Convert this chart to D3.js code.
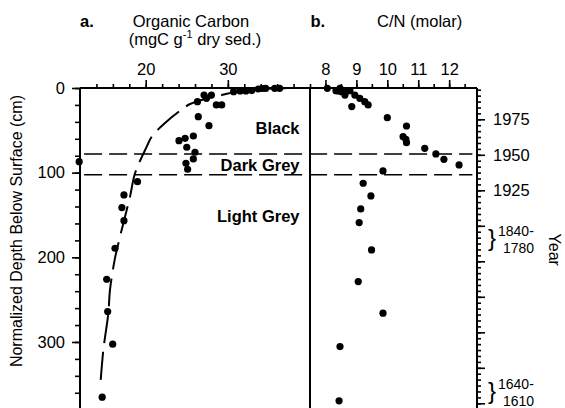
<!DOCTYPE html>
<html>
<head>
<meta charset="utf-8">
<script src="https://cdn.jsdelivr.net/npm/d3@7"></script>
<style>
body { margin: 0; background: #fff; }
text { font-family: "Liberation Sans", Arial, sans-serif; }
</style>
</head>
<body>
<script>
// organic carbon (mgC/g) vs normalized depth (cm)
const ocValue = [30.7, 31.5, 32.2, 32.9, 33.7, 34.2, 34.6, 35.7, 36.3,
    27.1, 28.0, 26.3, 27.4, 28.6, 29.25, 26.4, 27.7, 25.8, 24.8, 24.05,
    25.0, 26.0, 25.8, 24.9, 25.1, 19.0, 17.35, 17.1, 17.35, 16.26, 15.25,
    15.37, 15.98, 14.7, 11.9];
const ocDepth = [4.4, 3.5, 3.5, 3, 1.2, 0.6, 0.5, 0.4, 0.4,
    8.3, 8.3, 16.2, 12.2, 20, 20, 33.9, 44.5, 56.7, 59.4, 62.2,
    70, 75.9, 83.8, 88.9, 96, 110.6, 126.3, 141.3, 156.7, 189.3, 225.9,
    264.1, 302.6, 365.2, 87];

// dashed fit through the carbon profile
const fitValue = [14.52, 14.84, 15.0, 15.45, 15.65, 16.26, 16.87, 17.48, 18.09, 18.7,
    20.12, 20.73, 22.35, 24.3, 25.4, 27.2, 29.25, 31.5, 33.9, 38.8];
const fitDepth = [344.7, 309.3, 297.5, 266, 238.5, 201, 175.6, 152, 128.3, 100.7,
    69.3, 57.5, 41.3, 26, 18.9, 13, 8.3, 3.5, 1.2, 0];

// C/N (molar) vs depth
const cnValue = [8.06, 8.34, 8.42, 8.47, 8.52, 8.63, 8.68, 8.79, 8.85, 8.95,
    9.11, 9.27, 9.38, 10.0, 10.62, 10.51, 10.6, 10.62, 11.21, 11.57,
    11.83, 12.32, 9.86, 9.22, 9.47, 9.14, 9.09, 9.49, 9.06, 9.86, 8.47, 8.44];
const cnDepth = [0.4, 3.2, 3.5, 0.3, 4.4, 8.3, 3.2, 3.2, 22, 8.3,
    12.2, 16.2, 20, 35, 44.9, 57.5, 60.6, 64.6, 71.2, 77.9,
    84.2, 90.9, 98, 112.5, 127.5, 142.9, 159, 191.3, 228.7, 266, 305.4, 369.5];

// sediment colour zones
const zoneBounds = [78, 102.5];
const zoneNames = ["Black", "Dark Grey", "Light Grey"];
const zoneLabelDepth = [54.3, 97.7, 157.7];

// ticks
const ocMajor = [20, 30];
const ocMinor = d3.range(14, 40, 2);
const cnMajor = [8, 9, 10, 11, 12];
const cnMinor = d3.range(7.5, 12.9, 0.5);
const depthMajor = [0, 100, 200, 300];
const depthMinor = d3.range(0, 378, 20);
const yearLabels = [1975, 1950, 1925];
const yearMajor = d3.range(1775, 1976, 25);
const yearMinor = d3.range(1775, 1997, 25 / 6);
const dateRanges = [["1840-", "1780", 177], ["1640-", "1610", 358]];

const svg = d3.select("body").append("svg")
    .attr("width", 565).attr("height", 408);

const xOC = d3.scaleLinear().domain([12, 40]).range([80, 310]);
const xCN = d3.scaleLinear().domain([7.5, 12.9]).range([310, 477]);
const y = d3.scaleLinear().domain([0, 378]).range([88, 408]);
const yYear = d3.scaleLinear().domain([1975, 1950]).range([119.3, 154.8]);

function styleAxis(g) {
    g.select(".domain").remove();
    g.selectAll("line").attr("stroke", "#000").attr("stroke-width", 1.6);
    g.selectAll("text").attr("fill", "#000")
        .attr("font-family", "Liberation Sans, Arial, sans-serif");
    g.attr("font-size", 16.5);
}

// top axes
svg.append("g").attr("transform", "translate(0,88)")
    .call(d3.axisTop(xOC).tickValues(ocMinor).tickSize(4).tickFormat(""))
    .call(styleAxis);
svg.append("g").attr("transform", "translate(0,88)")
    .call(d3.axisTop(xOC).tickValues(ocMajor).tickSize(8).tickPadding(5).tickFormat(d3.format("d")))
    .call(styleAxis);
svg.append("g").attr("transform", "translate(0,88)")
    .call(d3.axisTop(xCN).tickValues(cnMinor).tickSize(4).tickFormat(""))
    .call(styleAxis);
svg.append("g").attr("transform", "translate(0,88)")
    .call(d3.axisTop(xCN).tickValues(cnMajor).tickSize(8).tickPadding(5).tickFormat(d3.format("d")))
    .call(styleAxis);

// left depth axis
svg.append("g").attr("transform", "translate(80,0)")
    .call(d3.axisLeft(y).tickValues(depthMinor).tickSize(5).tickFormat(""))
    .call(styleAxis);
svg.append("g").attr("transform", "translate(80,0)")
    .call(d3.axisLeft(y).tickValues(depthMajor).tickSize(8).tickPadding(7))
    .call(styleAxis);

// right year axis
svg.append("g").attr("transform", "translate(477,0)")
    .call(d3.axisRight(yYear).tickValues(yearMinor).tickSize(4).tickFormat(""))
    .call(styleAxis);
svg.append("g").attr("transform", "translate(477,0)")
    .call(d3.axisRight(yYear).tickValues(yearMajor).tickSize(8)
        .tickPadding(8).tickFormat(d => yearLabels.includes(d) ? d : ""))
    .call(styleAxis);

// frame
const frame = svg.append("g").attr("stroke", "#000").attr("stroke-width", 2);
frame.append("line").attr("x1", xOC(12)).attr("x2", xCN(12.9)).attr("y1", y(0)).attr("y2", y(0));
frame.append("line").attr("x1", xOC(12)).attr("x2", xOC(12)).attr("y1", y(0)).attr("y2", y(378));
frame.append("line").attr("x1", xOC(40)).attr("x2", xOC(40)).attr("y1", y(0)).attr("y2", y(378));
frame.append("line").attr("x1", xCN(12.9)).attr("x2", xCN(12.9)).attr("y1", y(0)).attr("y2", y(378));

// zone boundaries
svg.selectAll(".zone").data(zoneBounds).enter().append("line")
    .attr("x1", xOC(12.5)).attr("x2", xCN(12.75))
    .attr("y1", d => y(d)).attr("y2", d => y(d))
    .attr("stroke", "#000").attr("stroke-width", 1.6)
    .attr("stroke-dasharray", "18,7");

svg.selectAll(".zlab").data(zoneNames).enter().append("text")
    .attr("x", 299.5).attr("y", (d, i) => y(zoneLabelDepth[i]))
    .attr("text-anchor", "end").attr("font-weight", "bold")
    .attr("font-size", 16.5).text(d => d);

// fit curve
const fitLine = d3.line()
    .x((d, i) => xOC(fitValue[i]))
    .y((d, i) => y(fitDepth[i]))
    .curve(d3.curveCatmullRom);
svg.append("path").datum(fitValue).attr("d", fitLine)
    .attr("fill", "none").attr("stroke", "#000").attr("stroke-width", 2)
    .attr("stroke-dasharray", "28,9");

// points
svg.selectAll(".oc").data(ocValue).enter().append("circle")
    .attr("cx", d => xOC(d)).attr("cy", (d, i) => y(ocDepth[i]))
    .attr("r", 3.6).attr("fill", "#000");
svg.selectAll(".cn").data(cnValue).enter().append("circle")
    .attr("cx", d => xCN(d)).attr("cy", (d, i) => y(cnDepth[i]))
    .attr("r", 3.6).attr("fill", "#000");

// titles
svg.append("text").attr("x", 80).attr("y", 26.5).attr("font-weight", "bold")
    .attr("font-size", 16.5).text("a.");
svg.append("text").attr("x", 191).attr("y", 26.5).attr("text-anchor", "middle")
    .attr("font-size", 16.5).text("Organic Carbon");
const unit = svg.append("text").attr("x", 195).attr("y", 45).attr("text-anchor", "middle")
    .attr("font-size", 16.5);
unit.append("tspan").text("(mgC g");
unit.append("tspan").attr("dy", -7).attr("font-size", 11).text("-1");
unit.append("tspan").attr("dy", 7).text(" dry sed.)");
svg.append("text").attr("x", 310.5).attr("y", 26.5).attr("font-weight", "bold")
    .attr("font-size", 16.5).text("b.");
svg.append("text").attr("x", 377).attr("y", 26.5)
    .attr("font-size", 16.5).text("C/N (molar)");

svg.append("text").attr("transform", "translate(22," + y(169) + ") rotate(-90)")
    .attr("text-anchor", "middle").attr("font-size", 16)
    .text("Normalized Depth Below Surface (cm)");
svg.append("text").attr("transform", "translate(549," + y(191) + ") rotate(90)")
    .attr("text-anchor", "middle").attr("font-size", 16)
    .text("Year");

// dated horizons with braces
dateRanges.forEach(r => {
    const cy = y(r[2]);
    svg.append("text").attr("x", 488).attr("y", cy + 8)
        .attr("font-size", 24).text("}");
    svg.append("text").attr("x", 498).attr("y", cy - 2)
        .attr("font-size", 14).text(r[0]);
    svg.append("text").attr("x", 503).attr("y", cy + 15)
        .attr("font-size", 14).text(r[1]);
});
</script>
</body>
</html>
